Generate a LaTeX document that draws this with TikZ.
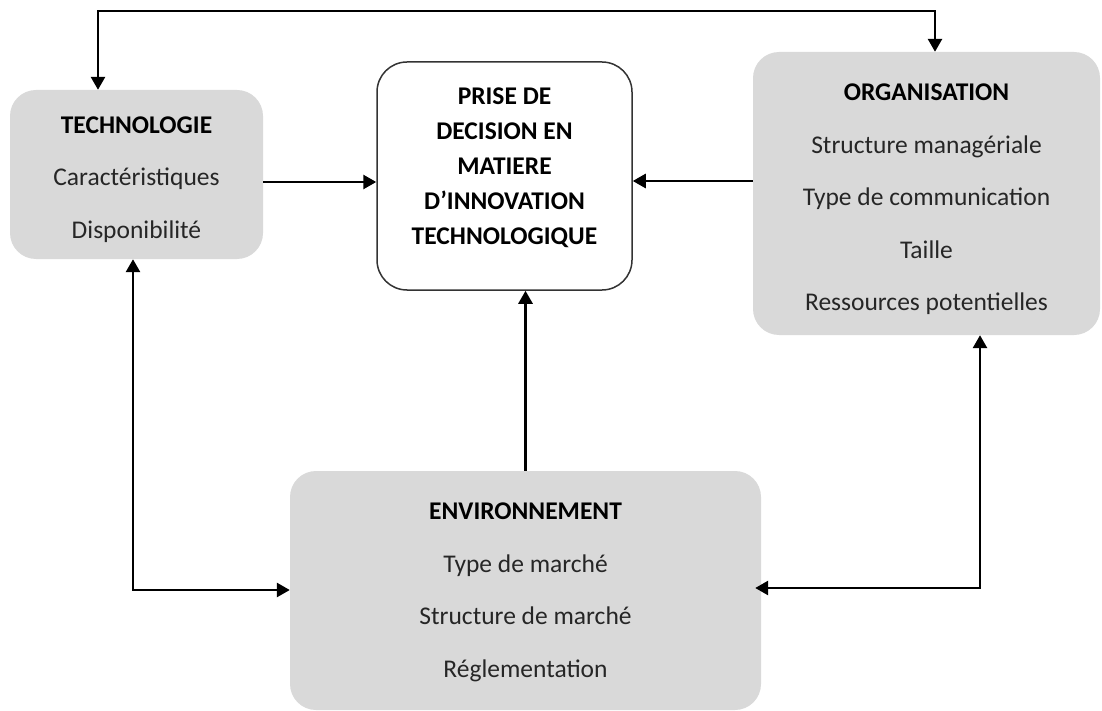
\documentclass[tikz,border=0pt]{standalone}
\usepackage{fontspec}
\setmainfont{Carlito}
\usetikzlibrary{arrows.meta}
\definecolor{boxgray}{HTML}{D9D9D9}
\definecolor{txtcol}{HTML}{262626}
\tikzset{
  graybox/.style={fill=boxgray, draw=none, rounded corners=26pt, inner sep=0pt},
  graytext/.style={align=center, inner sep=0pt, text=txtcol, font={\fontsize{25.5}{52.5}\selectfont}},
  mainbox/.style={fill=white, draw=black!80, line width=1.5pt, rounded corners=30pt, inner sep=0pt},
  maintext/.style={align=center, inner sep=0pt, text=black, font={\fontsize{25.5}{35}\selectfont\bfseries}},
  link/.style={line width=2.7pt, draw=black, arrows={-Triangle[length=13pt,width=14pt]}},
  dlink/.style={line width=2.7pt, draw=black, arrows={Triangle[length=13pt,width=14pt]-Triangle[length=13pt,width=14pt]}},
}
\begin{document}
\begin{tikzpicture}[x=1pt,y=-1pt]
\useasboundingbox (0,0) rectangle (1102,711);
\node[graybox, minimum width=253pt, minimum height=169pt] (tech) at (136.5,174.5) {};
\node[graytext] (techtext) at ([yshift=-5pt]tech.center)
  {\textbf{\color{black}TECHNOLOGIE}\\Caractéristiques\\Disponibilité};
\node[mainbox, minimum width=255pt, minimum height=228pt] (center) at (504.5,176) {};
\node[maintext] (centertext) at ([yshift=8pt]center.center)
  {PRISE DE\\DECISION EN\\MATIERE\\D’INNOVATION\\TECHNOLOGIQUE};
\node[graybox, minimum width=347pt, minimum height=283pt] (org) at (926.5,193.5) {};
\node[graytext] (orgtext) at ([yshift=-6pt]org.center)
  {\textbf{\color{black}ORGANISATION}\\Structure managériale\\Type de communication\\Taille\\Ressources potentielles};
\node[graybox, minimum width=471pt, minimum height=239pt] (env) at (525.5,590.5) {};
\node[graytext] (envtext) at ([yshift=-2pt]env.center)
  {\textbf{\color{black}ENVIRONNEMENT}\\Type de marché\\Structure de marché\\Réglementation};
\coordinate (topL) at (98,11);
\coordinate (topR) at (935,11);
\coordinate (midL) at (0,182);
\coordinate (midR) at (0,181);
\coordinate (botL) at (133,590);
\coordinate (botR) at (980,588);
\draw[dlink] (tech.north -| topL) -- (topL) -- (topR) -- (org.north -| topR);
\draw[link] (tech.east |- midL) -- (center.west |- midL);
\draw[link] (org.west |- midR) -- (center.east |- midR);
\draw[link] (env.north) -- (center.south -| env.north);
\draw[dlink] (tech.south -| botL) -- (botL) -- (env.west |- botL);
\draw[dlink, shorten >=-6pt] (org.south -| botR) -- (botR) -- (env.east |- botR);
\end{tikzpicture}
\end{document}
